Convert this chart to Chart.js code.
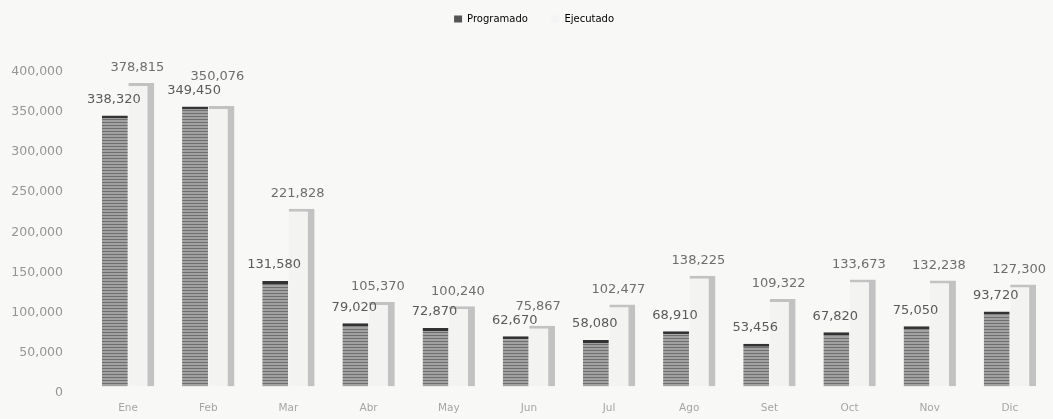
<!DOCTYPE html>
<html>
<head>
<meta charset="utf-8">
<script src="https://cdn.jsdelivr.net/npm/chart.js@4/dist/chart.umd.min.js"></script>
<style>
  html, body { margin: 0; padding: 0; background: #f8f8f7; }
  #wrap { width: 1053px; height: 419px; }
</style>
</head>
<body>
<div id="wrap"><canvas id="c" width="1053" height="419"></canvas></div>
<script>
// datos
const meses = ['Ene', 'Feb', 'Mar', 'Abr', 'May', 'Jun', 'Jul', 'Ago', 'Set', 'Oct', 'Nov', 'Dic'];
const programado = [338320, 349450, 131580, 79020, 72870, 62670, 58080, 68910, 53456, 67820, 75050, 93720];
const ejecutado = [378815, 350076, 221828, 105370, 100240, 75867, 102477, 138225, 109322, 133673, 132238, 127300];
const ticksY = [0, 50000, 100000, 150000, 200000, 250000, 300000, 350000, 400000];

// relleno rayado tipo escaneo para la serie programada
function rayado() {
  const p = document.createElement('canvas');
  p.width = 4; p.height = 3;
  const g = p.getContext('2d');
  g.fillStyle = '#a2a2a2';
  g.fillRect(0, 0, 4, 3);
  g.fillStyle = '#6e6e6e';
  g.fillRect(0, 2, 4, 1);
  return g.createPattern(p, 'repeat');
}

const fmt = v => v.toLocaleString('en-US');

// etiquetas de valor encima de cada barra; si chocan se sube la segunda
const etiquetas = {
  id: 'etiquetas',
  afterDatasetsDraw(chart) {
    const ctx = chart.ctx;
    const m0 = chart.getDatasetMeta(0).data;
    const m1 = chart.getDatasetMeta(1).data;
    ctx.save();
    ctx.font = '13px "DejaVu Sans", sans-serif';
    ctx.textAlign = 'center';
    ctx.textBaseline = 'middle';
    m0.forEach((b0, j) => {
      const b1 = m1[j];
      const y0 = b0.y - 16;
      let y1 = b1.y - 15;
      if (y0 - y1 < 14) y1 = y0 - 14;
      ctx.fillStyle = '#5a5a5a';
      ctx.fillText(fmt(programado[j]), b0.x - 1, y0);
      ctx.fillStyle = '#6e6e6e';
      ctx.fillText(fmt(ejecutado[j]), b1.x - 4, y1);
    });
    ctx.restore();
  }
};

new Chart(document.getElementById('c'), {
  type: 'bar',
  data: {
    labels: meses,
    datasets: [{
      label: 'Programado',
      data: programado,
      backgroundColor: rayado(),
      borderColor: '#333333',
      borderWidth: {top: 3, left: 0, right: 0, bottom: 0},
      borderSkipped: false
    }, {
      label: 'Ejecutado',
      data: ejecutado,
      backgroundColor: '#f3f3f2',
      borderColor: '#c2c2c2',
      borderWidth: {top: 3, left: 0, right: 7, bottom: 0},
      borderSkipped: false
    }]
  },
  options: {
    responsive: false,
    animation: false,
    layout: { padding: { top: 0, right: 3, bottom: 0, left: 0 } },
    datasets: { bar: { categoryPercentage: 0.66, barPercentage: 0.98 } },
    plugins: {
      legend: {
        position: 'top',
        fullSize: false,
        labels: {
          boxWidth: 8,
          boxHeight: 7,
          padding: 14,
          color: '#8a8a8a',
          font: { size: 10, family: '"DejaVu Sans", sans-serif' },
          generateLabels(chart) {
            return [
              { text: 'Programado   ', fillStyle: '#555555', strokeStyle: '#555555', lineWidth: 0, datasetIndex: 0 },
              { text: 'Ejecutado' + ' '.repeat(22), fillStyle: '#f4f4f4', strokeStyle: '#f4f4f4', lineWidth: 0, datasetIndex: 1 }
            ];
          }
        }
      },
      // espacio vacio entre la leyenda y el area de barras
      subtitle: {
        display: true,
        text: '',
        weight: 500,
        font: { size: 10 },
        padding: { top: 0, bottom: 20 }
      },
      tooltip: { enabled: false }
    },
    scales: {
      x: {
        grid: { display: false, drawTicks: false },
        border: { display: false },
        afterFit(scale) { scale.height = 27; },
        ticks: { color: '#a5a5a5', padding: 15, font: { size: 10.5, family: '"DejaVu Sans", sans-serif' } }
      },
      y: {
        min: 0,
        max: 400000,
        grid: { display: false, drawTicks: false },
        border: { display: false },
        afterFit(scale) { scale.width = 88; },
        afterBuildTicks(scale) { scale.ticks = ticksY.map(v => ({ value: v })); },
        ticks: {
          color: '#959595',
          padding: 25,
          labelOffset: 6,
          font: { size: 12.5, family: '"DejaVu Sans", sans-serif' },
          callback: v => fmt(v)
        }
      }
    }
  },
  plugins: [etiquetas]
});
</script>
</body>
</html>
